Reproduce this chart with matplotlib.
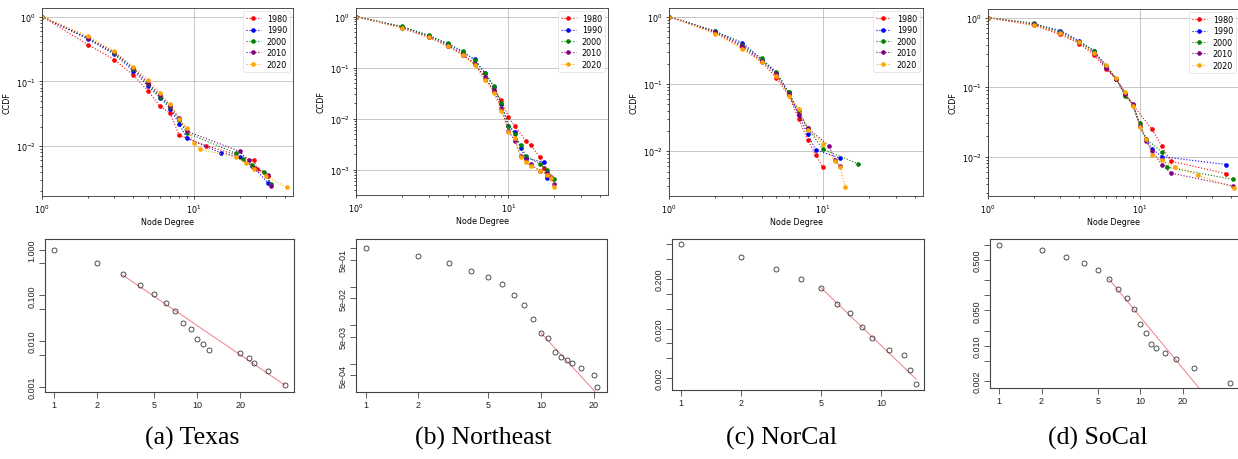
import matplotlib
matplotlib.use("Agg")
import matplotlib.pyplot as plt

# figure size in pixels
W, H = 1238, 460

YEARS = ["1980", "1990", "2000", "2010", "2020"]
YEAR_COLORS = ["red", "blue", "green", "purple", "orange"]

# ---- top row: CCDF of node degree per decade ----
# Texas
tx_deg_1980 = [1, 2, 3, 4, 5, 6, 7, 8, 12, 25, 26, 31]
tx_ccdf_1980 = [1, 0.37, 0.216, 0.124, 0.071, 0.041, 0.032, 0.0147, 0.0102, 0.006, 0.0045, 0.0035]
tx_deg_1990 = [1, 2, 3, 4, 5, 6, 7, 8, 9, 15, 20, 24, 31]
tx_ccdf_1990 = [1, 0.45, 0.26, 0.145, 0.084, 0.056, 0.038, 0.022, 0.0133, 0.0079, 0.0068, 0.005, 0.0027]
tx_deg_2000 = [1, 2, 3, 4, 5, 6, 7, 8, 9, 19, 21, 24, 29, 32]
tx_ccdf_2000 = [1, 0.46, 0.27, 0.155, 0.09, 0.058, 0.04, 0.025, 0.016, 0.0077, 0.0064, 0.0052, 0.004, 0.0026]
tx_deg_2010 = [1, 2, 3, 4, 5, 6, 7, 8, 9, 20, 23, 25, 31, 32]
tx_ccdf_2010 = [1, 0.47, 0.28, 0.16, 0.095, 0.061, 0.042, 0.027, 0.017, 0.0083, 0.006, 0.0046, 0.0036, 0.0024]
tx_deg_2020 = [1, 2, 3, 4, 5, 6, 7, 8, 9, 10, 11, 19, 22, 25, 30, 41]
tx_ccdf_2020 = [1, 0.5, 0.29, 0.167, 0.106, 0.066, 0.044, 0.026, 0.019, 0.011, 0.0089, 0.0068, 0.0055, 0.0045, 0.0034, 0.0023]

# Northeast
ne_deg_1980 = [1, 2, 3, 4, 5, 6, 7, 8, 9, 10, 11, 13, 14, 16, 17, 18, 19]
ne_ccdf_1980 = [1, 0.62, 0.40, 0.27, 0.18, 0.12, 0.062, 0.037, 0.023, 0.0107, 0.0071, 0.0037, 0.003, 0.0018, 0.0011, 0.00075, 0.00072]
ne_deg_1990 = [1, 2, 3, 4, 5, 6, 7, 8, 9, 10, 11, 12, 13, 17, 18]
ne_ccdf_1990 = [1, 0.63, 0.42, 0.29, 0.2, 0.145, 0.078, 0.042, 0.019, 0.0073, 0.0055, 0.0027, 0.0017, 0.0014, 0.0007]
ne_deg_2000 = [1, 2, 3, 4, 5, 6, 7, 8, 9, 10, 11, 12, 13, 16, 18, 20]
ne_ccdf_2000 = [1, 0.64, 0.43, 0.30, 0.21, 0.14, 0.08, 0.044, 0.02, 0.0073, 0.005, 0.003, 0.0019, 0.0013, 0.001, 0.00065]
ne_deg_2010 = [1, 2, 3, 4, 5, 6, 7, 8, 9, 10, 11, 12, 13, 14, 16, 18, 19, 20]
ne_ccdf_2010 = [1, 0.6, 0.39, 0.27, 0.18, 0.12, 0.065, 0.035, 0.016, 0.0058, 0.0037, 0.0019, 0.0016, 0.0013, 0.00095, 0.00085, 0.0007, 0.00053]
ne_deg_2020 = [1, 2, 3, 4, 5, 6, 7, 8, 9, 10, 11, 12, 13, 14, 16, 18, 19, 20]
ne_ccdf_2020 = [1, 0.6, 0.39, 0.26, 0.175, 0.11, 0.058, 0.032, 0.014, 0.0055, 0.0042, 0.0018, 0.0014, 0.0012, 0.00095, 0.0008, 0.00068, 0.00047]

# NorCal
nc_deg_1980 = [1, 2, 3, 4, 5, 6, 7, 8, 9, 10]
nc_ccdf_1980 = [1, 0.57, 0.35, 0.21, 0.123, 0.068, 0.030, 0.0147, 0.0089, 0.0059]
nc_deg_1990 = [1, 2, 3, 4, 5, 6, 7, 8, 9, 13]
nc_ccdf_1990 = [1, 0.6, 0.41, 0.23, 0.145, 0.075, 0.034, 0.018, 0.0105, 0.0079]
nc_deg_2000 = [1, 2, 3, 4, 5, 6, 7, 8, 10, 17]
nc_ccdf_2000 = [1, 0.61, 0.38, 0.24, 0.15, 0.076, 0.039, 0.022, 0.0108, 0.0065]
nc_deg_2010 = [1, 2, 3, 4, 5, 6, 7, 8, 11, 12, 13]
nc_ccdf_2010 = [1, 0.59, 0.37, 0.22, 0.14, 0.07, 0.036, 0.022, 0.012, 0.0075, 0.006]
nc_deg_2020 = [1, 2, 3, 4, 5, 6, 7, 8, 10, 12, 13, 14]
nc_ccdf_2020 = [1, 0.56, 0.33, 0.21, 0.13, 0.065, 0.043, 0.021, 0.013, 0.0072, 0.0058, 0.0029]

# SoCal
sc_deg_1980 = [1, 2, 3, 4, 5, 6, 7, 8, 9, 12, 14, 16, 37]
sc_ccdf_1980 = [1, 0.77, 0.57, 0.42, 0.29, 0.183, 0.13, 0.083, 0.055, 0.025, 0.014, 0.0086, 0.0057]
sc_deg_1990 = [1, 2, 3, 4, 5, 6, 7, 8, 9, 10, 11, 12, 14, 37]
sc_ccdf_1990 = [1, 0.8, 0.65, 0.46, 0.33, 0.2, 0.13, 0.078, 0.056, 0.028, 0.018, 0.013, 0.01, 0.0077]
sc_deg_2000 = [1, 2, 3, 4, 5, 6, 7, 8, 9, 10, 11, 14, 15, 41]
sc_ccdf_2000 = [1, 0.83, 0.62, 0.45, 0.33, 0.2, 0.13, 0.075, 0.056, 0.03, 0.018, 0.0116, 0.0071, 0.0047]
sc_deg_2010 = [1, 2, 3, 4, 5, 6, 7, 8, 9, 10, 11, 12, 14, 16, 41]
sc_ccdf_2010 = [1, 0.8, 0.6, 0.44, 0.31, 0.19, 0.13, 0.08, 0.057, 0.028, 0.017, 0.012, 0.0077, 0.0058, 0.0038]
sc_deg_2020 = [1, 2, 3, 4, 5, 6, 7, 8, 9, 10, 11, 12, 14, 17, 24, 42]
sc_ccdf_2020 = [1, 0.78, 0.59, 0.44, 0.31, 0.21, 0.135, 0.085, 0.053, 0.027, 0.018, 0.0107, 0.0088, 0.0072, 0.0054, 0.0036]

# ---- bottom row: power-law fits (points + fitted line endpoints) ----
tx_fit_deg = [1, 2, 3, 4, 5, 6, 7, 8, 9, 10, 11, 12, 20, 23, 25, 31, 41]
tx_fit_ccdf = [1.0, 0.5, 0.29, 0.17, 0.106, 0.068, 0.045, 0.025, 0.0187, 0.0111, 0.0089, 0.0066, 0.0055, 0.0043, 0.0033, 0.0022, 0.0011]
tx_line_x = [3, 41]
tx_line_y = [0.28, 0.0011]

ne_fit_deg = [1, 2, 3, 4, 5, 6, 7, 8, 9, 10, 11, 12, 13, 14, 15, 17, 20, 21]
ne_fit_ccdf = [1.0, 0.62, 0.41, 0.26, 0.18, 0.117, 0.062, 0.034, 0.0146, 0.0063, 0.0046, 0.002, 0.0015, 0.00125, 0.00102, 0.00077, 0.0005, 0.00025]
ne_line_x = [10, 21]
ne_line_y = [0.0063, 0.00016]

nc_fit_deg = [1, 2, 3, 4, 5, 6, 7, 8, 9, 11, 13, 14, 15]
nc_fit_ccdf = [1.0, 0.57, 0.32, 0.197, 0.131, 0.063, 0.042, 0.0216, 0.0127, 0.0073, 0.0058, 0.0029, 0.0015]
nc_line_x = [5, 15]
nc_line_y = [0.135, 0.0019]

sc_fit_deg = [1, 2, 3, 4, 5, 6, 7, 8, 9, 10, 11, 12, 13, 15, 18, 24, 43]
sc_fit_ccdf = [1.0, 0.785, 0.58, 0.435, 0.311, 0.21, 0.135, 0.087, 0.054, 0.027, 0.0178, 0.0108, 0.009, 0.0073, 0.0055, 0.0037, 0.0018]
sc_line_x = [6, 43]
sc_line_y = [0.21, 0.00027]

CAPTIONS = ["(a) Texas", "(b) Northeast", "(c) NorCal", "(d) SoCal"]


fig = plt.figure(figsize=(W / 100, H / 100), dpi=100)


def axes_px(left, top, right, bottom):
    return fig.add_axes([left / W, 1 - bottom / H, (right - left) / W, (bottom - top) / H])


def ccdf_panel(ax, series):
    for (deg, val), year, color in zip(series, YEARS, YEAR_COLORS):
        ax.plot(deg, val, linestyle=":", marker=".", color=color, label=year,
                lw=0.8, ms=4.6)
    ax.set_xscale("log")
    ax.set_yscale("log")
    ax.set_xlim(1, 45)
    ax.grid(True, lw=0.5, color="#b0b0b0")
    ax.set_xlabel("Node Degree", fontsize=5.8, labelpad=2)
    ax.set_ylabel("CCDF", fontsize=5.8, labelpad=3)
    ax.tick_params(which="both", labelsize=5.8, width=0.5, pad=2)
    ax.tick_params(which="major", length=2.5)
    ax.tick_params(which="minor", length=1.5)
    for sp in ax.spines.values():
        sp.set_linewidth(0.6)
        sp.set_color("#333333")
    leg = ax.legend(loc="upper right", fontsize=5.8, handlelength=1.9,
                    borderpad=0.35, labelspacing=0.3, handletextpad=0.7,
                    borderaxespad=0.4, framealpha=0.8)
    leg.get_frame().set_linewidth(0.4)


def fit_panel(ax, deg, val, line_x, line_y, xlim, ylim, xticks, yticks, ylabels):
    ax.plot(line_x, line_y, color="#ee7f86", lw=0.7)
    ax.plot(deg, val, "o", mfc="none", mec="#333333", ms=3.6, mew=0.6)
    ax.set_xscale("log")
    ax.set_yscale("log")
    ax.set_xlim(*xlim)
    ax.set_ylim(*ylim)
    ax.minorticks_off()
    ax.set_xticks(xticks, [str(t) for t in xticks])
    ax.set_yticks(yticks, ylabels)
    for lab in ax.get_yticklabels():
        lab.set_rotation(90)
        lab.set_va("center")
    for lab in ax.get_xticklabels() + ax.get_yticklabels():
        lab.set_family("Liberation Sans")
    ax.tick_params(length=4, width=0.6, color="#444444", labelsize=6.5,
                   labelcolor="#222222", pad=2)
    for sp in ax.spines.values():
        sp.set_linewidth(0.8)
        sp.set_color("#444444")


top_boxes = [(42, 9, 293, 197), (356, 9, 608, 196), (669, 9, 923, 197), (988, 10, 1239, 197)]
top_series = [
    [(tx_deg_1980, tx_ccdf_1980), (tx_deg_1990, tx_ccdf_1990), (tx_deg_2000, tx_ccdf_2000),
     (tx_deg_2010, tx_ccdf_2010), (tx_deg_2020, tx_ccdf_2020)],
    [(ne_deg_1980, ne_ccdf_1980), (ne_deg_1990, ne_ccdf_1990), (ne_deg_2000, ne_ccdf_2000),
     (ne_deg_2010, ne_ccdf_2010), (ne_deg_2020, ne_ccdf_2020)],
    [(nc_deg_1980, nc_ccdf_1980), (nc_deg_1990, nc_ccdf_1990), (nc_deg_2000, nc_ccdf_2000),
     (nc_deg_2010, nc_ccdf_2010), (nc_deg_2020, nc_ccdf_2020)],
    [(sc_deg_1980, sc_ccdf_1980), (sc_deg_1990, sc_ccdf_1990), (sc_deg_2000, sc_ccdf_2000),
     (sc_deg_2010, sc_ccdf_2010), (sc_deg_2020, sc_ccdf_2020)],
]
for box, series in zip(top_boxes, top_series):
    ccdf_panel(axes_px(*box), series)

# bottom row
ax = axes_px(45, 240, 294, 393)
fit_panel(ax, tx_fit_deg, tx_fit_ccdf, tx_line_x, tx_line_y,
          (10 ** -0.065, 10 ** 1.676), (10 ** -3.108, 10 ** 0.232),
          [1, 2, 5, 10, 20],
          [1, 0.5, 0.1, 0.05, 0.01, 0.005, 0.001],
          ["1.000", "", "0.100", "", "0.010", "", "0.001"])

ax = axes_px(356, 240, 607, 393)
fit_panel(ax, ne_fit_deg, ne_fit_ccdf, ne_line_x, ne_line_y,
          (10 ** -0.055, 10 ** 1.377), (10 ** -3.74, 10 ** 0.243),
          [1, 2, 5, 10, 20],
          [1, 0.5, 0.1, 0.05, 0.01, 0.005, 0.001, 0.0005],
          ["", "5e-01", "", "5e-02", "", "5e-03", "", "5e-04"])

ax = axes_px(672, 240, 924, 391)
fit_panel(ax, nc_fit_deg, nc_fit_ccdf, nc_line_x, nc_line_y,
          (10 ** -0.045, 10 ** 1.215), (10 ** -2.94, 10 ** 0.11),
          [1, 2, 5, 10],
          [1, 0.5, 0.2, 0.1, 0.05, 0.02, 0.01, 0.005, 0.002],
          ["", "", "0.200", "", "", "0.020", "", "", "0.002"])

ax = axes_px(990, 240, 1239, 389)
fit_panel(ax, sc_fit_deg, sc_fit_ccdf, sc_line_x, sc_line_y,
          (10 ** -0.064, 10 ** 1.70), (10 ** -2.835, 10 ** 0.112),
          [1, 2, 5, 10, 20],
          [1, 0.5, 0.2, 0.1, 0.05, 0.02, 0.01, 0.005, 0.002],
          ["", "0.500", "", "", "0.050", "", "0.010", "", "0.002"])

# subfigure captions
for cx, text in zip([192, 483, 782, 1098], CAPTIONS):
    fig.text(cx / W, 1 - 438 / H, text, ha="center", va="center",
             family="Liberation Serif", fontsize=18.5)

fig.savefig("out.png", dpi=100)
